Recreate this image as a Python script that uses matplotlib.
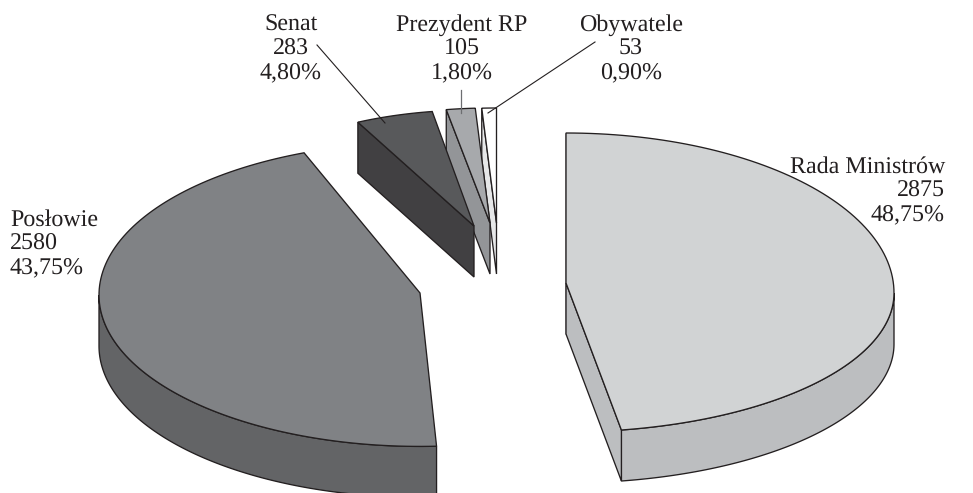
#!/usr/bin/env python3

import matplotlib as mpl

mpl.use("agg")

import matplotlib.pyplot as plt
import numpy as np
from matplotlib.patches import Polygon

names = ["Rada Ministrów", "Posłowie", "Senat", "Prezydent RP", "Obywatele"]
counts = [2875, 2580, 283, 105, 53]
shares = ["48,75%", "43,75%", "4,80%", "1,80%", "0,90%"]

top_colors = ["#d1d3d4", "#808285", "#58595b", "#a7a9ac", "#ffffff"]
side_colors = ["#bcbec0", "#636466", "#414042", "#939598", "#e6e7e8"]
edge = "#231f20"
depth = 51.0

plt.rcParams["text.hinting"] = "no_hinting"
plt.rcParams["text.hinting_factor"] = 1


class Wedge:
    def __init__(self, tip, center, rx, ry_up, ry_down, shift=0.0, stretch=1.0):
        """One exploded slice, drawn in pixel coordinates.

        Keyword arguments:
        tip -- inner corner of the slice
        center -- center of the ellipse the rim lies on
        rx, ry_up, ry_down -- ellipse radii, far half and near half
        shift, stretch -- correction of the rim angles for the tilted view
        """
        self.tip = np.array(tip, dtype=float)
        self.center = center
        self.rx = rx
        self.ry_up = ry_up
        self.ry_down = ry_down
        self.shift = shift
        self.stretch = stretch

    def rim(self, a, b, n=120):
        # Angles in degrees, clockwise from the top
        t = np.radians(np.linspace(a, b, n))
        x = self.center[0] + self.rx * np.sin(t)
        ry = np.where(np.cos(t) > 0, self.ry_up, self.ry_down)
        y = self.center[1] - ry * np.cos(t)
        return np.column_stack([x, y])


wedges = [
    Wedge((566, 283), (566, 293), 328, 160, 139, stretch=0.97),
    Wedge((420, 293), (420, 295), 321, 152.5, 151.4, shift=1.5, stretch=1.027),
    Wedge((474, 226), (474, 226), 260, 116, 116, shift=0.4),
    Wedge((490, 223), (490, 223), 261, 115, 115),
    Wedge((496.5, 223), (496.5, 223), 261, 115, 115),
]


def add_poly(ax, pts, color, z):
    ax.add_patch(
        Polygon(pts, closed=True, facecolor=color, edgecolor=edge, lw=0.95,
                joinstyle="miter", zorder=z)
    )


def draw_wedge(ax, w, a, b, top, side, z):
    rim = w.rim(a, b)
    down = np.array([0, depth])

    # Outer wall, only the part of the rim that faces the viewer
    lo, hi = max(a, 90), min(b, 270)
    if hi > lo:
        wall = w.rim(lo, hi)
        add_poly(ax, np.vstack([wall, (wall + down)[::-1]]), side, z)

    # Cut faces that can be seen from the front
    if a > 270 or a < 90:
        first = rim[0]
        add_poly(ax, [w.tip, first, first + down, w.tip + down], side, z + 0.1)
    if 90 < b < 180:
        last = rim[-1]
        add_poly(ax, [w.tip, last, last + down, w.tip + down], side, z + 0.1)

    add_poly(ax, np.vstack([w.tip, rim]), top, z + 0.2)


def main():
    fig = plt.figure(figsize=(9.73, 4.93), dpi=100)
    ax = fig.add_axes([0, 0, 1, 1])
    ax.set_xlim(0, 973)
    ax.set_ylim(493, 0)
    ax.axis("off")

    sweeps = np.array(counts) / sum(counts) * 360.0
    starts = np.concatenate([[0.0], np.cumsum(sweeps)[:-1]])

    # Back slices first, Senat overlaps the side of Prezydent RP
    for i in [4, 3, 2, 1, 0]:
        w = wedges[i]
        a = starts[i] + w.shift
        b = a + sweeps[i] * w.stretch
        draw_wedge(ax, w, a, b, top_colors[i], side_colors[i], 10 - 2 * i)

    label_pos = [
        (945, 167, "right"),
        (10, 220, "left"),
        (291, 25, "center"),
        (462, 25, "center"),
        (631, 25, "center"),
    ]
    for i, (x, y, ha) in enumerate(label_pos):
        for k, line in enumerate((names[i], str(counts[i]), shares[i])):
            ax.text(x, y + 24.2 * k, line, ha=ha, va="center",
                    family="Liberation Serif", fontsize=17.4, color=edge, zorder=30)

    # Leader lines
    ax.plot([317, 385], [45, 123], color=edge, lw=0.8, zorder=31)
    ax.plot([461, 461], [90, 113], color="#6d6e71", lw=0.9, zorder=31)
    ax.plot([595, 488], [42, 113], color=edge, lw=0.8, zorder=31)

    plt.savefig("out.png", dpi=100)


if __name__ == "__main__":
    main()
